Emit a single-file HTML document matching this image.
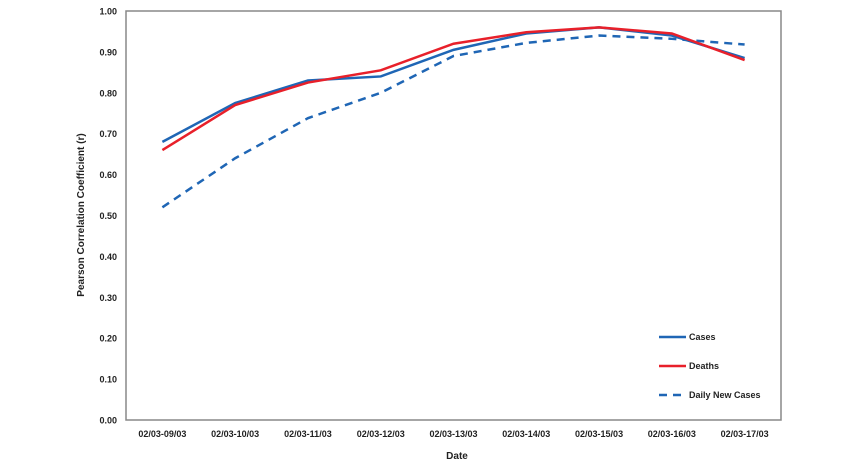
<!DOCTYPE html>
<html><head><meta charset="utf-8"><style>
html,body{margin:0;padding:0;background:#fff;}
svg text{font-family:"Liberation Sans",Arial,sans-serif;font-weight:bold;fill:#222;}
</style></head><body>
<svg id="chart" width="850" height="465" xmlns="http://www.w3.org/2000/svg">
<rect x="126" y="11" width="655" height="409" fill="none" stroke="#888" stroke-width="1.5"/>
<g id="yticks"></g><g id="xticks"></g><g id="series"></g>
<text x="84" y="215" font-size="10" text-anchor="middle" transform="rotate(-90 84 215)">Pearson Correlation Coefficient (r)</text>
<text x="457" y="459" font-size="10" text-anchor="middle">Date</text>
<g>
<g><line x1="659" y1="337" x2="686" y2="337" stroke="#1f66b5" stroke-width="2.5"/><text x="689" y="340" font-size="9">Cases</text></g>
<g><line x1="659" y1="366" x2="686" y2="366" stroke="#e8202a" stroke-width="2.5"/><text x="689" y="369" font-size="9">Deaths</text></g>
<g><line x1="659" y1="395" x2="686" y2="395" stroke="#1f66b5" stroke-width="2.5" stroke-dasharray="8,6"/><text x="689" y="398" font-size="9">Daily New Cases</text></g>
</g>
</svg>
<script>
const categories=["02/03-09/03","02/03-10/03","02/03-11/03","02/03-12/03","02/03-13/03","02/03-14/03","02/03-15/03","02/03-16/03","02/03-17/03"];
const cases=[0.68,0.775,0.83,0.84,0.905,0.945,0.96,0.94,0.885];
const deaths=[0.66,0.77,0.825,0.855,0.92,0.948,0.96,0.945,0.88];
const dailyNew=[0.52,0.64,0.738,0.80,0.89,0.922,0.94,0.932,0.918];
const yTicks=["0.00","0.10","0.20","0.30","0.40","0.50","0.60","0.70","0.80","0.90","1.00"];
const NS="http://www.w3.org/2000/svg";
const L=126,T=11,W=655,H=409;
function xs(i){return L+W/categories.length*(i+0.5);}
function ys(v){return T+H*(1-v/1.0);}
const yg=document.getElementById('yticks');
yTicks.forEach(t=>{const e=document.createElementNS(NS,'text');
e.setAttribute('x',117);e.setAttribute('y',ys(parseFloat(t))+3.5);e.setAttribute('font-size','9');e.setAttribute('text-anchor','end');e.textContent=t;


yg.appendChild(e);});
const xg=document.getElementById('xticks');
categories.forEach((c,i)=>{const e=document.createElementNS(NS,'text');
e.setAttribute('x',xs(i));e.setAttribute('y',437);e.setAttribute('font-size','9');e.setAttribute('text-anchor','middle');e.textContent=c;


xg.appendChild(e);});
const sg=document.getElementById('series');
function line(arr,color,dash,name){const p=document.createElementNS(NS,'polyline');
p.setAttribute('points',arr.map((v,i)=>xs(i)+','+ys(v)).join(' '));
p.setAttribute('fill','none');p.setAttribute('stroke',color);p.setAttribute('stroke-width','2.5');
if(dash)p.setAttribute('stroke-dasharray','8,6');


sg.appendChild(p);}
line(dailyNew,'#1f66b5',true,'daily-new-cases-line');
line(cases,'#1f66b5',false,'cases-line');
line(deaths,'#e8202a',false,'deaths-line');
</script>
</body></html>
